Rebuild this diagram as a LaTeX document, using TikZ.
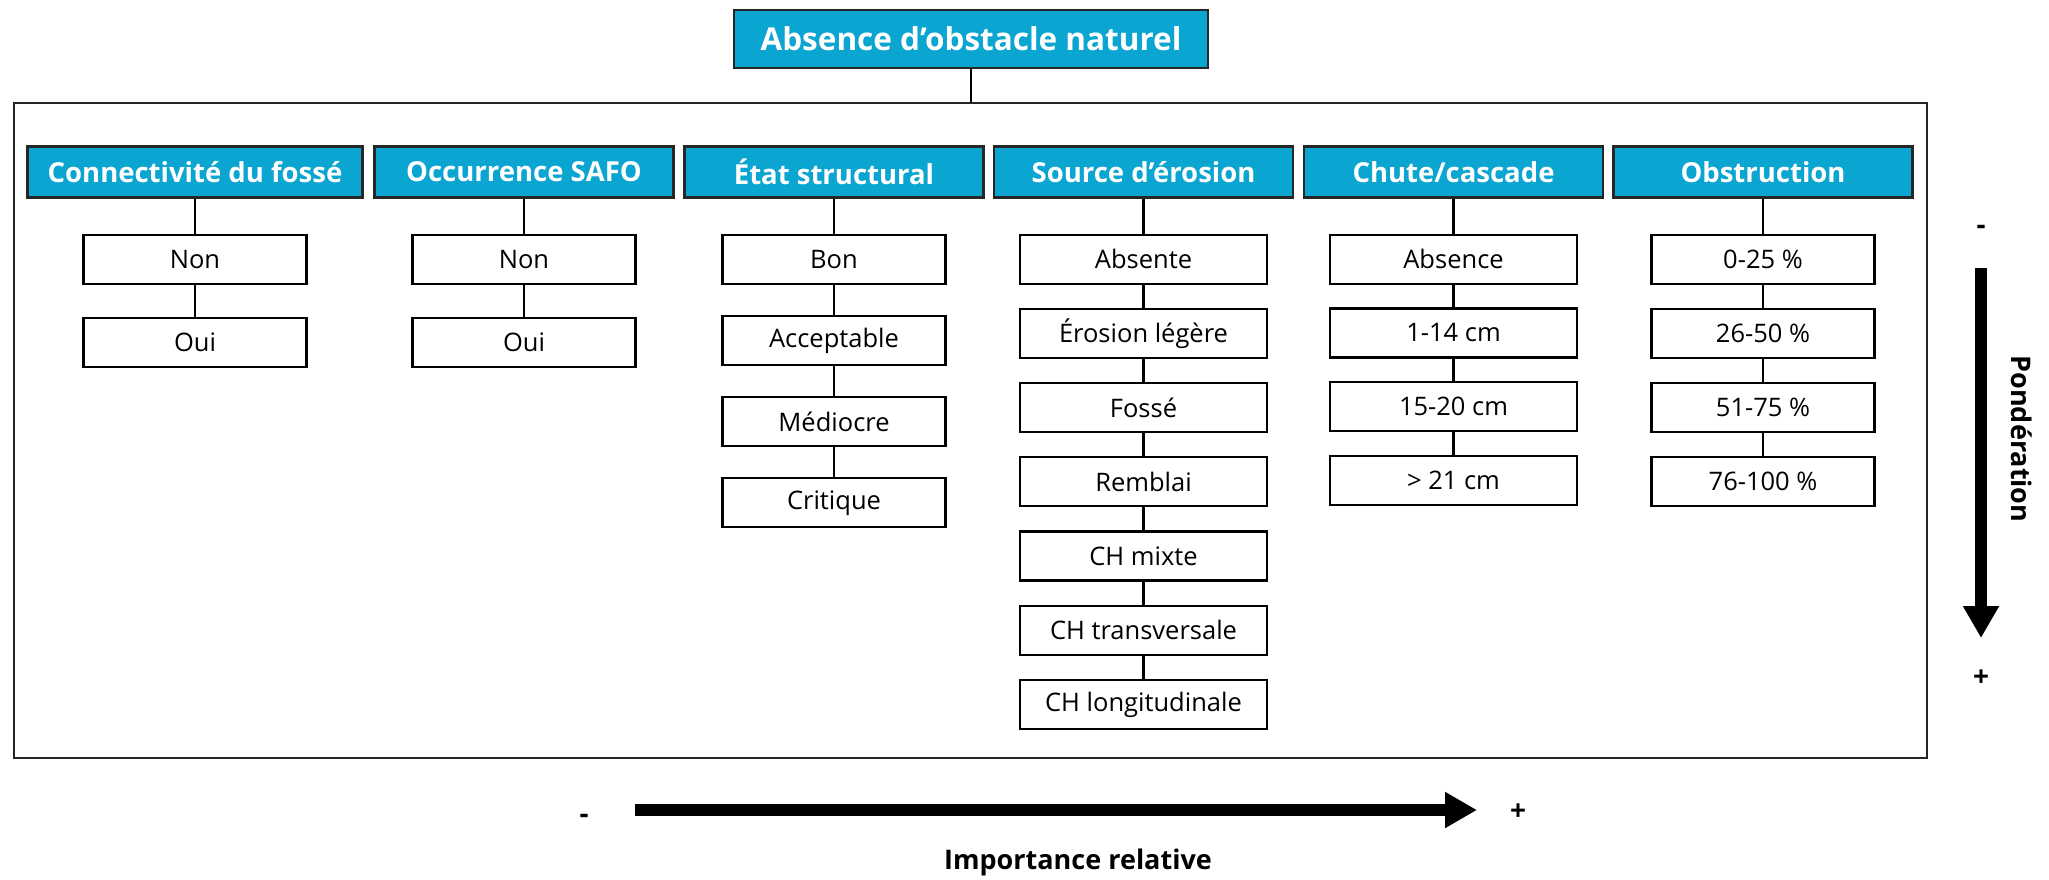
\documentclass[tikz,border=0pt]{standalone}
\usepackage{fontspec}
\setmainfont{Open Sans}
\usetikzlibrary{positioning,arrows.meta}
\definecolor{headblue}{RGB}{11,165,209}
\tikzset{
  titlebox/.style={draw=black!85, line width=2.2pt, fill=headblue, text=white,
    font=\fontsize{31.5}{36}\selectfont\bfseries, minimum width=474pt,
    minimum height=58pt, inner sep=0pt},
  headbox/.style={draw=black!85, line width=2.2pt, fill=headblue, text=white,
    font=\fontsize{27.5}{32}\selectfont\bfseries, minimum width=#1,
    minimum height=51pt, inner sep=0pt},
  headbox/.default=299pt,
  itembox/.style={draw, line width=2.2pt, fill=white,
    font=\fontsize{25.5}{30}\selectfont, minimum width=#1,
    minimum height=49pt, inner sep=0pt},
  itembox/.default=223pt,
  link/.style={line width=2.2pt},
  bigarrow/.style={line width=12pt, -{Triangle[length=32pt,width=34pt]}},
  sign/.style={font=\fontsize{28}{32}\selectfont\bfseries},
  axislabel/.style={font=\fontsize{27}{32}\selectfont\bfseries}
}
\begin{document}
\begin{tikzpicture}[x=1pt,y=-1pt]
  \useasboundingbox (0,0) rectangle (2049,879);
  % frame and title
  \node[titlebox] (title) at (971,39) {Absence d’obstacle naturel};
  \draw[line width=2.2pt, draw=black!85] (14,103) rectangle (1927,758);
  \coordinate (frametop) at (971,103);
  \draw[link] (title) -- (frametop);

  % criteria
  \node[headbox=335pt] (conn) at (195,172) {Connectivité du fossé};
  \node[headbox] (occ) at (524,172) {Occurrence SAFO};
  \node[headbox] (etat) at (834,172) {État structural};
  \node[headbox] (src) at (1143.5,172) {Source d’érosion};
  \node[headbox] (chute) at (1453.5,172) {Chute/cascade};
  \node[headbox] (obst) at (1763,172) {Obstruction};

  % Connectivite du fosse
  \node[itembox, below=35pt of conn] (conn1) {Non};
  \node[itembox, below=32pt of conn1] (conn2) {Oui};
  \draw[link] (conn) -- (conn1) -- (conn2);

  % Occurrence SAFO
  \node[itembox, below=35pt of occ] (occ1) {Non};
  \node[itembox, below=32pt of occ1] (occ2) {Oui};
  \draw[link] (occ) -- (occ1) -- (occ2);

  % Etat structural
  \node[itembox, below=35pt of etat] (etat1) {Bon};
  \node[itembox, below=30pt of etat1] (etat2) {Acceptable};
  \node[itembox, below=30pt of etat2] (etat3) {Médiocre};
  \node[itembox, below=30pt of etat3] (etat4) {Critique};
  \draw[link] (etat) -- (etat1) -- (etat2) -- (etat3) -- (etat4);

  % Source d'erosion
  \node[itembox=247pt, below=35pt of src] (src1) {Absente};
  \node[itembox=247pt, below=23pt of src1] (src2) {Érosion légère};
  \node[itembox=247pt, below=23pt of src2] (src3) {Fossé};
  \node[itembox=247pt, below=23pt of src3] (src4) {Remblai};
  \node[itembox=247pt, below=23pt of src4] (src5) {CH mixte};
  \node[itembox=247pt, below=23pt of src5] (src6) {CH transversale};
  \node[itembox=247pt, below=23pt of src6] (src7) {CH longitudinale};
  \draw[link] (src) -- (src1) -- (src2) -- (src3) -- (src4) -- (src5) -- (src6) -- (src7);

  % Chute/cascade
  \node[itembox=247pt, below=35pt of chute] (chute1) {Absence};
  \node[itembox=247pt, below=22.5pt of chute1] (chute2) {1-14 cm};
  \node[itembox=247pt, below=22.5pt of chute2] (chute3) {15-20 cm};
  \node[itembox=247pt, below=22.5pt of chute3] (chute4) {> 21 cm};
  \draw[link] (chute) -- (chute1) -- (chute2) -- (chute3) -- (chute4);

  % Obstruction
  \node[itembox, below=35pt of obst] (obst1) {0-25 \%};
  \node[itembox, below=23pt of obst1] (obst2) {26-50 \%};
  \node[itembox, below=23pt of obst2] (obst3) {51-75 \%};
  \node[itembox, below=23pt of obst3] (obst4) {76-100 \%};
  \draw[link] (obst) -- (obst1) -- (obst2) -- (obst3) -- (obst4);

  % axes
  \coordinate (pondtop) at (1981,268);
  \coordinate (pondtip) at (1981,638);
  \draw[bigarrow] (pondtop) -- (pondtip);
  \node[sign] (pondmin) at (1981,230) {-};
  \node[sign] (pondmax) at (1981,678) {+};
  \node[axislabel, rotate=-90] (pond) at (2022,439) {Pondération};

  \coordinate (impleft) at (635,810);
  \coordinate (imptip) at (1477,810);
  \draw[bigarrow] (impleft) -- (imptip);
  \node[sign] (impmin) at (584,819) {-};
  \node[sign] (impmax) at (1518,812) {+};
  \node[axislabel] (imp) at (1078,862) {Importance relative};
\end{tikzpicture}
\end{document}
